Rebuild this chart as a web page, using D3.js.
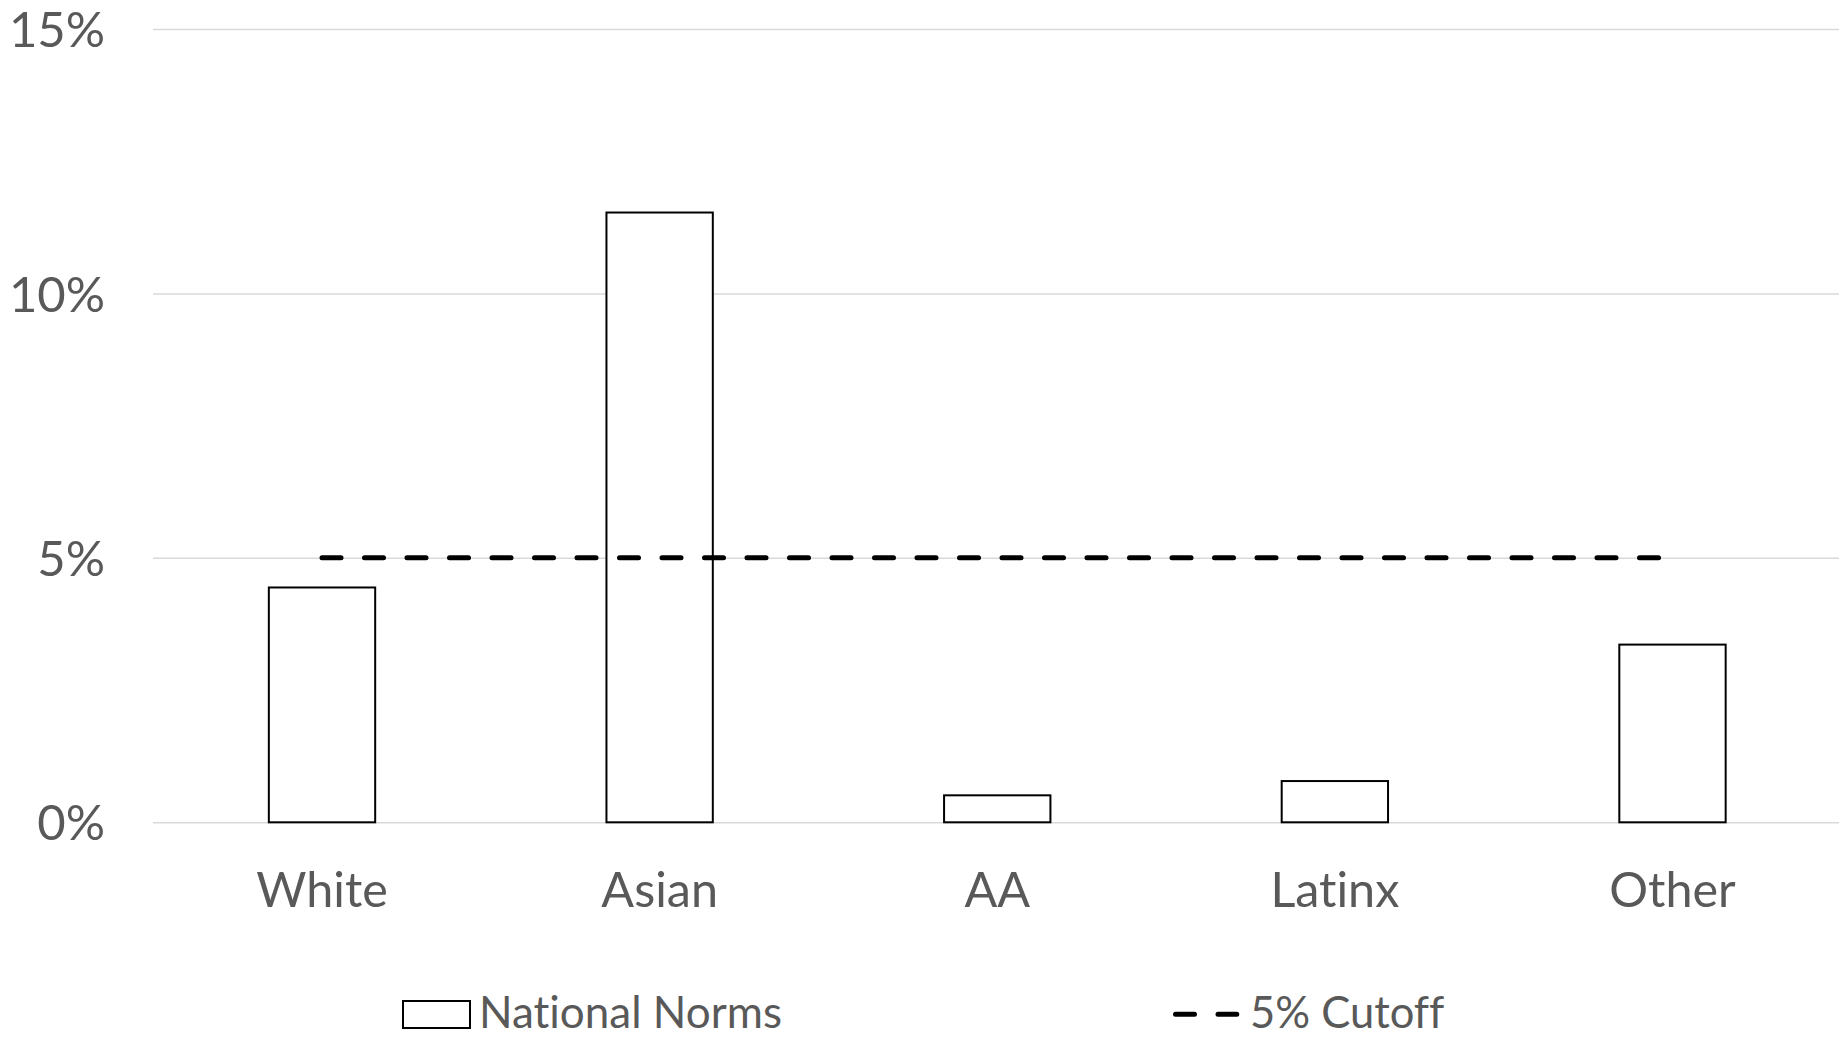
<!DOCTYPE html>
<html>
<head>
<meta charset="utf-8">
<script src="https://cdn.jsdelivr.net/npm/d3@7"></script>
<style>
  html, body { margin: 0; padding: 0; background: #ffffff; }
  svg { display: block; }
  text { font-family: Lato, "Open Sans", sans-serif; fill: #595959; font-variant-ligatures: none; font-feature-settings: "liga" 0, "clig" 0; }
</style>
</head>
<body>
<svg id="chart" width="1839" height="1037"></svg>
<script>
const categories = ["White", "Asian", "AA", "Latinx", "Other"];
const nationalNorms = [4.44, 11.53, 0.51, 0.78, 3.36];
const cutoff = [5, 5, 5, 5, 5];
const yTicks = [0, 5, 10, 15];
const seriesNames = ["National Norms", "5% Cutoff"];

const W = 1839, H = 1037;
const plot = { left: 153, right: 1839, top: 29, bottom: 822.3 };

const svg = d3.select("#chart");

const x = d3.scaleBand()
  .domain(categories)
  .range([153.2, 1841.3])
  .paddingInner(0.685)
  .paddingOuter(0.3425);

const y = d3.scaleLinear()
  .domain([0, 15])
  .range([plot.bottom, plot.top]);

// gridlines
const grid = d3.axisLeft(y).tickValues(yTicks).tickSize(-(plot.right - plot.left)).tickFormat("");
svg.append("g")
  .attr("transform", `translate(${plot.left},0)`)
  .call(grid)
  .call(g => g.select(".domain").remove())
  .call(g => g.selectAll("line").attr("stroke", "#d9d9d9").attr("stroke-width", 1.5));

// y tick labels
const yAxis = d3.axisLeft(y).tickValues(yTicks).tickSize(0).tickPadding(0).tickFormat(d => d + "%");
svg.append("g")
  .attr("transform", `translate(105,0)`)
  .call(yAxis)
  .call(g => g.select(".domain").remove())
  .call(g => g.selectAll("text")
    .attr("fill", "#595959")
    .style("font-family", "Lato")
    .style("font-size", "49px")
    .attr("dy", "0.36em"));

// bars
svg.append("g")
  .selectAll("rect")
  .data(categories.map((c, i) => ({ c, v: nationalNorms[i] })))
  .join("rect")
  .attr("x", d => x(d.c))
  .attr("y", d => y(d.v))
  .attr("width", x.bandwidth())
  .attr("height", d => y(0) - y(d.v))
  .attr("fill", "#ffffff")
  .attr("stroke", "#000000")
  .attr("stroke-width", 2);

// cutoff dashed line
const line = d3.line()
  .x((d, i) => x(categories[i]) + x.bandwidth() / 2)
  .y(d => y(d));
svg.append("path")
  .datum(cutoff)
  .attr("d", line)
  .attr("fill", "none")
  .attr("stroke", "#000000")
  .attr("stroke-width", 5)
  .attr("stroke-linecap", "round")
  .attr("stroke-dasharray", "19 23.5");

// x axis labels
const xAxis = d3.axisBottom(x).tickSize(0).tickPadding(0);
svg.append("g")
  .attr("transform", `translate(0,907.3)`)
  .call(xAxis)
  .call(g => g.select(".domain").remove())
  .call(g => g.selectAll("text")
    .attr("fill", "#595959")
    .attr("dy", 0)
    .attr("y", 0)
    .style("font-family", "Lato")
    .style("font-size", "48.5px"));

// legend
const legend = svg.append("g");
legend.append("rect")
  .attr("x", 403).attr("y", 1001)
  .attr("width", 67).attr("height", 27)
  .attr("fill", "#ffffff").attr("stroke", "#000000").attr("stroke-width", 2);
legend.append("text")
  .attr("x", 479).attr("y", 1027.7)
  .style("font-size", "44px")
  .text(seriesNames[0]);
legend.append("line")
  .attr("x1", 1175.5).attr("x2", 1236.8)
  .attr("y1", 1014.3).attr("y2", 1014.3)
  .attr("stroke", "#000000").attr("stroke-width", 5)
  .attr("stroke-linecap", "round")
  .attr("stroke-dasharray", "19 23.5");
legend.append("text")
  .attr("x", 1250).attr("y", 1027.7)
  .style("font-size", "43.5px")
  .text(seriesNames[1]);
</script>
</body>
</html>
